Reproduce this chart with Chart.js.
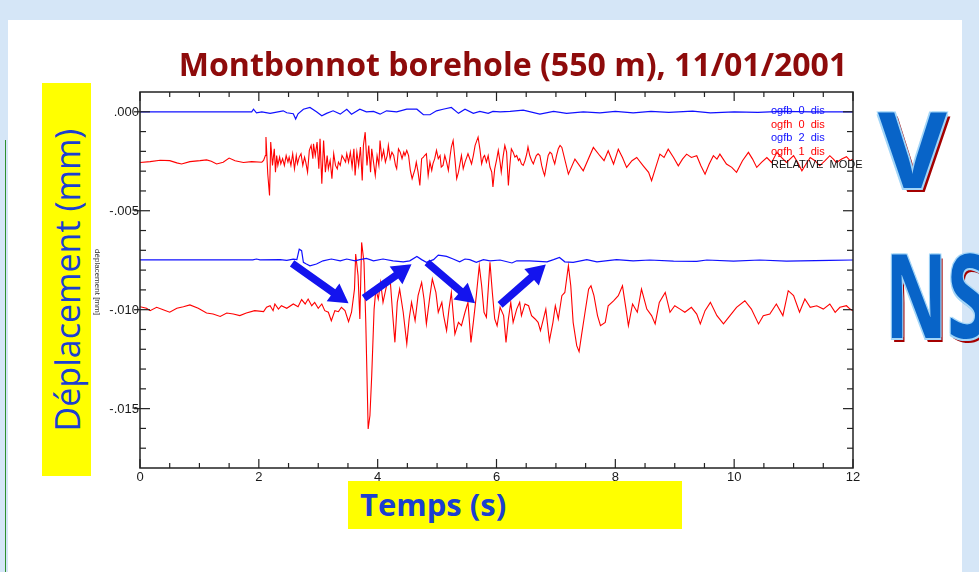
<!DOCTYPE html>
<html>
<head>
<meta charset="utf-8">
<script src="https://cdn.jsdelivr.net/npm/chart.js@4.4.1/dist/chart.umd.min.js"></script>
<style>
  html, body { margin: 0; padding: 0; }
  body { width: 979px; height: 572px; overflow: hidden; position: relative; background: #d5e6f7; font-family: "Open Sans", sans-serif; }
  #panel { position: absolute; left: 8px; top: 20px; width: 954px; height: 552px; background: #fff; }
  #edge { position: absolute; left: 5px; top: 140px; width: 1px; height: 432px; background: #2f8f2f; }
  .ybox { position: absolute; background: #ffff00; }
  #ylab { left: 42px; top: 83px; width: 49px; height: 393px; }
  #ylab span { position: absolute; left: 50%; top: 50%; transform: translate(-50%, -50%) rotate(-90deg); white-space: nowrap; font-size: 34px; color: #1b3fd0; }
  #xlab { left: 348px; top: 481px; width: 334px; height: 48px; }
  #xlab span { position: absolute; left: 12px; top: 50%; transform: translateY(-52%); white-space: nowrap; font-size: 31px; font-weight: bold; color: #1b3fd0; }
  .big { position: absolute; font-weight: bold; color: #0864c8; line-height: 1; white-space: nowrap;
         text-shadow: -1.5px -1.5px 0 #a3d6f8, 1.5px -1.5px 0 #a3d6f8, -1.5px 1.5px 0 #a3d6f8, 1.5px 1.5px 0 #a3d6f8, 3.5px 3.5px 0 #a40000; }
  #v { left: 878px; top: 94px; font-size: 106px; }
  #ns { left: 885px; top: 235px; font-size: 116px; transform-origin: left top; transform: scaleX(0.66); }
  canvas { position: absolute; left: 0; top: 0; }
</style>
</head>
<body>
<div id="panel"></div>
<div id="edge"></div>
<div class="ybox" id="ylab"><span>Déplacement (mm)</span></div>
<div class="ybox" id="xlab"><span>Temps (s)</span></div>
<div class="big" id="v">V</div>
<div class="big" id="ns">NS</div>
<canvas id="plot" width="979" height="572"></canvas>
<script>
// Montbonnot borehole (550 m), 11/01/2001 -- displacement traces, values in micrometres (0.001 mm)
const chartTitle = 'Montbonnot borehole (550 m), 11/01/2001';
const traceNames = ['ogfb  0  dis', 'ogfh  0  dis', 'ogfb  2  dis', 'ogfh  1  dis'];
const modeLabel = 'RELATIVE  MODE';
const xTickValues = [0, 2, 4, 6, 8, 10, 12];
const xTickLabels = ['0', '2', '4', '6', '8', '10', '12'];
const yTickValues = [0, -0.005, -0.010, -0.015];
const yTickLabels = ['.000', '-.005', '-.010', '-.015'];

// ogfb 0 dis (vertical, surface)
const ogfb0Time = [0, 1.88, 1.91, 1.96, 2.05, 2.19, 2.41, 2.47, 2.58, 2.62, 2.66, 2.75, 2.86, 2.97, 3.06, 3.14, 3.25, 3.37, 3.48, 3.56,
  3.70, 3.81, 3.93, 4.04, 4.15, 4.32, 4.49, 4.66, 4.77, 4.88, 4.99, 5.10, 5.24, 5.36, 5.47, 5.61, 5.72, 5.86, 5.94, 6.06,
  6.23, 6.45, 6.73, 6.96, 7.18, 7.46, 7.74, 8.0, 8.3, 8.6, 8.9, 9.3, 9.6, 10.0, 10.4, 10.8, 11.3, 12.0];
const ogfb0Disp = [0, 0, 0.13, -0.05, 0, -0.08, 0.05, -0.05, -0.10, -0.37, -0.10, 0.13, 0.22, 0, -0.20, -0.08, 0.05, -0.12, 0.13, -0.12,
  0.13, 0, 0.02, -0.12, 0.05, 0, 0.13, 0.13, -0.15, -0.15, 0.05, 0.13, 0.22, -0.08, 0.13, -0.08, 0.02, -0.08, 0.02, 0,
  0.02, 0.08, -0.12, 0.02, -0.08, 0, -0.05, 0.02, -0.05, 0.02, -0.03, 0.03, -0.05, 0, -0.03, 0.02, 0, 0];

// ogfh 0 dis (horizontal, surface)
const ogfh0Time = [0.00, 0.17, 0.34, 0.50, 0.62, 0.70, 0.84, 1.01, 1.12, 1.20, 1.29, 1.40, 1.50, 1.60, 1.74, 1.88, 2.05,
  2.08, 2.11, 2.12, 2.15, 2.18, 2.20, 2.23, 2.26, 2.28, 2.30, 2.32, 2.35, 2.37, 2.40, 2.43, 2.46, 2.49, 2.51, 2.54, 2.57,
  2.60, 2.63, 2.65, 2.68, 2.71, 2.74, 2.77, 2.79, 2.82, 2.85, 2.88, 2.91, 2.92, 2.95, 2.98, 3.01, 3.03, 3.06, 3.09, 3.12,
  3.15, 3.17, 3.20, 3.23, 3.26, 3.29, 3.32, 3.34, 3.37, 3.40, 3.43, 3.46, 3.48, 3.51, 3.54, 3.57, 3.60, 3.62, 3.65, 3.68,
  3.71, 3.74, 3.76, 3.79, 3.82, 3.85, 3.88, 3.90, 3.93, 3.96, 3.99, 4.02, 4.04, 4.07, 4.10, 4.13, 4.16, 4.18, 4.21, 4.24,
  4.27, 4.30, 4.32, 4.35, 4.38, 4.41, 4.44, 4.46, 4.49, 4.52, 4.55, 4.58,
  4.63, 4.65, 4.68, 4.71, 4.74, 4.77, 4.79, 4.82, 4.85, 4.88, 4.91, 4.93, 4.96, 4.99, 5.02, 5.05, 5.07, 5.10, 5.13, 5.16,
  5.19, 5.22, 5.24, 5.27, 5.30, 5.33, 5.36, 5.38, 5.41, 5.44, 5.47, 5.50, 5.52, 5.55, 5.58, 5.61, 5.64, 5.66, 5.69, 5.72,
  5.75, 5.78, 5.80, 5.83, 5.86, 5.89, 5.92, 5.94, 5.97, 6.00, 6.03, 6.06, 6.08, 6.11, 6.14, 6.17, 6.20, 6.22, 6.25, 6.28,
  6.31, 6.34, 6.37, 6.39, 6.42, 6.45, 6.48, 6.51, 6.53, 6.56, 6.59, 6.62, 6.65, 6.67, 6.70, 6.73, 6.76, 6.79, 6.81, 6.84,
  6.87, 6.90, 6.93, 6.95, 6.98, 7.01, 7.04, 7.07,
  7.10, 7.21, 7.32, 7.46, 7.63, 7.74, 7.81, 7.88, 7.97, 8.05, 8.12, 8.19, 8.28, 8.36, 8.47, 8.56, 8.61,
  8.68, 8.75, 8.82, 8.89, 8.98, 9.06, 9.13, 9.20, 9.28, 9.37, 9.44, 9.51, 9.58, 9.65, 9.71, 9.76, 9.87, 9.96, 10.04, 10.14,
  10.24, 10.31, 10.38, 10.46, 10.55, 10.63, 10.72, 10.80, 10.88, 11.00, 11.07, 11.14, 11.21, 11.28, 11.36, 11.44, 11.53, 11.61, 11.67, 11.72,
  11.81, 11.89, 11.95, 12.00];
const ogfh0Disp = [-2.56, -2.52, -2.45, -2.47, -2.58, -2.64, -2.52, -2.47, -2.43, -2.50, -2.64, -2.55, -2.34, -2.47, -2.56, -2.52, -2.55,
  -2.46, -2.21, -1.28, -3.13, -4.23, -1.53, -2.71, -1.87, -3.05, -2.21, -2.71, -2.29, -2.63, -2.37, -2.71, -2.21, -2.54, -2.29, -2.71, -2.12,
  -2.88, -2.21, -2.63, -2.29, -2.12, -2.71, -2.29, -2.54, -3.05, -1.95, -1.70, -2.37, -1.62, -2.21, -1.53, -2.88, -1.36, -3.64, -1.45, -3.05,
  -2.21, -2.88, -2.46, -3.38, -2.12, -2.71, -2.88, -2.54, -2.71, -2.21, -2.37, -2.54, -2.12, -2.54, -2.04, -2.79, -1.87, -3.22, -2.04, -2.71,
  -1.78, -3.47, -1.70, -1.03, -2.71, -1.70, -3.05, -1.87, -2.54, -3.22, -2.21, -2.71, -1.45, -2.37, -1.95, -2.54, -2.21, -1.70, -2.37, -2.04,
  -2.21, -2.71, -2.88, -1.87, -2.04, -2.37, -2.04, -2.21, -1.95, -2.21, -2.96, -3.38,
  -2.88, -2.54, -3.05, -3.72, -2.37, -2.29, -2.21, -2.12, -3.22, -2.54, -2.96, -2.63, -2.37, -1.95, -2.37, -2.21, -2.79, -2.71, -2.21, -2.54,
  -2.96, -2.21, -1.78, -1.45, -2.37, -3.38, -3.05, -2.71, -2.21, -2.88, -2.54, -2.29, -2.12, -2.37, -2.63, -2.21, -1.70, -1.53, -1.28, -1.87,
  -2.63, -2.29, -2.21, -2.54, -2.21, -2.79, -3.05, -3.80, -2.88, -2.46, -1.95, -2.54, -3.05, -2.29, -1.70, -2.04, -3.72, -2.88, -1.87, -2.04,
  -2.29, -2.21, -2.46, -2.37, -2.63, -2.71, -2.46, -2.12, -1.78, -2.21, -2.46, -2.63, -2.37, -2.21, -2.12, -2.21, -2.71, -3.05, -3.22, -2.71,
  -2.21, -2.04, -2.12, -2.37, -2.63, -2.21, -1.87, -1.70,
  -1.80, -3.15, -2.39, -2.98, -1.80, -2.22, -2.47, -1.97, -2.64, -1.89, -2.31, -2.81, -2.47, -2.31, -2.73, -3.06, -3.48,
  -2.81, -2.14, -2.31, -1.89, -2.31, -2.73, -2.39, -2.14, -2.31, -2.22, -2.73, -3.15, -2.64, -2.22, -2.39, -2.14, -2.64, -2.81, -3.06, -2.47,
  -2.05, -2.39, -2.81, -2.56, -2.31, -2.56, -2.05, -2.31, -2.56, -2.22, -2.56, -2.98, -2.64, -2.31, -2.47, -2.73, -2.47, -2.22, -2.39, -2.56,
  -2.39, -2.27, -2.47, -2.39];

// ogfb 2 dis (vertical, borehole)
const ogfb2Time = [0, 1.90, 1.96, 2.02, 2.36, 2.47, 2.58, 2.64, 2.68, 2.72, 2.75, 2.80, 2.86, 2.97, 3.08, 3.22, 3.37, 3.48, 3.62, 3.70,
  3.81, 3.93, 4.09, 4.26, 4.43, 4.54, 4.66, 4.74, 4.82, 4.94, 5.02, 5.08, 5.16, 5.27, 5.38, 5.47, 5.55, 5.66, 5.78, 5.89,
  6.06, 6.26, 6.34, 6.56, 6.85, 6.96, 7.06, 7.15, 7.29, 7.52, 7.69, 8.02, 8.30, 8.58, 8.98, 9.37, 9.54, 9.99, 10.43, 10.88,
  11.61, 12.0];
const ogfb2Disp = [-7.48, -7.48, -7.44, -7.48, -7.47, -7.51, -7.45, -7.47, -6.94, -7.02, -7.61, -7.69, -7.78, -7.69, -7.53, -7.44, -7.53, -7.44, -7.53, -7.47,
  -7.41, -7.53, -7.44, -7.53, -7.58, -7.53, -7.31, -7.47, -7.61, -7.47, -7.24, -7.27, -7.31, -7.44, -7.58, -7.44, -7.47, -7.61, -7.47, -7.53,
  -7.49, -7.64, -7.53, -7.53, -7.58, -7.47, -7.36, -7.58, -7.61, -7.47, -7.58, -7.47, -7.53, -7.49, -7.55, -7.56, -7.49, -7.55, -7.49, -7.55,
  -7.51, -7.49];

// ogfh 1 dis (horizontal, borehole)
const ogfh1Time = [0.00, 0.11, 0.17, 0.28, 0.39, 0.50, 0.62, 0.73, 0.84, 0.98, 1.12, 1.23, 1.35, 1.46, 1.57, 1.68, 1.79, 1.93, 2.08, 2.13,
  2.19, 2.24, 2.27, 2.33, 2.38, 2.47, 2.58, 2.66, 2.72, 2.78, 2.83, 2.89, 2.94, 3.00, 3.06, 3.11, 3.17, 3.22, 3.28, 3.34,
  3.39, 3.45, 3.51, 3.56, 3.61, 3.63, 3.67, 3.70, 3.73, 3.77, 3.80, 3.84, 3.87, 3.90, 3.94, 3.97, 4.01, 4.05, 4.09, 4.15,
  4.21, 4.25, 4.29, 4.33, 4.37, 4.43, 4.49, 4.53, 4.57, 4.63, 4.68, 4.74, 4.78, 4.82, 4.88, 4.92, 4.98, 5.02, 5.08, 5.11,
  5.16, 5.20, 5.24, 5.30, 5.36, 5.41, 5.47, 5.52, 5.57, 5.61, 5.66, 5.71, 5.75, 5.79, 5.83, 5.89, 5.93, 5.97, 6.01,
  6.06, 6.12, 6.16, 6.20, 6.24, 6.28, 6.34, 6.39, 6.42, 6.48, 6.54, 6.59, 6.65, 6.70, 6.74, 6.79, 6.83, 6.89, 6.95, 6.99,
  7.04, 7.10, 7.15, 7.21, 7.25, 7.29, 7.35, 7.39, 7.43, 7.49, 7.55, 7.59, 7.64, 7.70, 7.75, 7.83, 7.88, 7.97, 8.05, 8.12,
  8.18, 8.22, 8.29, 8.37, 8.44, 8.53, 8.61, 8.67, 8.74, 8.84, 8.92, 9.00, 9.09, 9.17, 9.28, 9.37, 9.43, 9.51, 9.60, 9.71,
  9.82, 9.93, 10.04, 10.18, 10.29, 10.41, 10.49, 10.60, 10.71, 10.82, 10.91, 11.00, 11.10, 11.19, 11.28, 11.39, 11.50, 11.61, 11.70, 11.78,
  11.89, 11.95, 12.00];
const ogfh1Disp = [-9.85, -9.93, -10.05, -9.88, -10.00, -10.13, -9.93, -9.85, -9.76, -9.93, -10.17, -10.22, -10.34, -10.17, -10.22, -10.30, -10.17, -10.05, -10.10, -9.88,
  -9.80, -10.05, -9.71, -9.97, -9.80, -9.93, -9.71, -9.85, -9.49, -9.71, -9.46, -9.80, -9.63, -9.93, -9.71, -10.05, -10.13, -10.56, -10.05, -10.10,
  -9.88, -10.05, -10.61, -10.13, -8.96, -7.19, -8.28, -10.47, -6.60, -7.61, -10.64, -16.03, -15.35, -13.33, -9.97, -8.96, -9.46, -8.62, -9.63, -8.79,
  -8.45, -10.13, -11.65, -9.63, -8.96, -10.13, -11.73, -10.47, -9.63, -10.56, -9.29, -8.62, -9.46, -10.72, -9.29, -8.45, -9.13, -10.13, -9.63, -10.30,
  -11.06, -9.97, -9.13, -11.23, -10.64, -10.81, -10.13, -9.63, -11.65, -10.64, -9.29, -7.78, -8.79, -10.13, -10.39, -7.61, -9.13, -10.47, -10.81,
  -9.88, -10.30, -11.65, -10.47, -9.63, -10.64, -9.97, -9.63, -10.30, -9.71, -9.80, -10.30, -10.47, -10.64, -11.06, -10.47, -9.97, -11.57, -10.64, -9.80,
  -10.47, -9.29, -9.13, -7.78, -8.79, -10.64, -11.82, -12.12, -11.31, -10.13, -8.96, -8.79, -9.29, -10.30, -10.81, -10.64, -9.80, -9.55, -9.29, -8.79,
  -9.97, -10.81, -9.71, -10.13, -8.96, -9.97, -10.30, -10.72, -9.63, -9.13, -10.13, -9.80, -9.97, -10.13, -9.88, -10.22, -10.72, -10.05, -9.63, -10.30,
  -10.72, -10.30, -9.88, -9.55, -9.97, -10.72, -10.30, -10.22, -9.71, -10.30, -9.04, -9.29, -10.13, -9.46, -9.88, -9.80, -9.97, -9.71, -10.13, -9.88,
  -9.80, -9.97, -10.05];

// blue arrows of the slide, tail -> head, in (s, micrometre)
const arrowPath = [
  [[2.56, -7.66], [3.51, -9.68]],
  [[3.77, -9.42], [4.57, -7.71]],
  [[4.83, -7.61], [5.64, -9.68]],
  [[6.06, -9.76], [6.83, -7.72]]
];

const traceColors = ['#1010ff', '#ff0000', '#1010ff', '#ff0000'];

function toPoints(times, disp) {
  const n = Math.min(times.length, disp.length);
  const pts = [];
  for (let i = 0; i < n; i++) {
    pts.push({ x: times[i], y: disp[i] / 1000 });
  }
  return pts;
}

const traces = [
  toPoints(ogfb0Time, ogfb0Disp),
  toPoints(ogfh0Time, ogfh0Disp),
  toPoints(ogfb2Time, ogfb2Disp),
  toPoints(ogfh1Time, ogfh1Disp)
];

function drawArrow(ctx, x0, y0, x1, y1) {
  const ang = Math.atan2(y1 - y0, x1 - x0);
  const len = Math.hypot(x1 - x0, y1 - y0);
  const headLen = 19, headW = 11, shaft = 3.8;
  ctx.save();
  ctx.translate(x0, y0);
  ctx.rotate(ang);
  ctx.beginPath();
  ctx.moveTo(0, -shaft);
  ctx.lineTo(len - headLen, -shaft);
  ctx.lineTo(len - headLen, -headW);
  ctx.lineTo(len, 0);
  ctx.lineTo(len - headLen, headW);
  ctx.lineTo(len - headLen, shaft);
  ctx.lineTo(0, shaft);
  ctx.closePath();
  ctx.fill();
  ctx.restore();
}

function seg(ctx, xa, ya, xb, yb) {
  ctx.beginPath();
  ctx.moveTo(xa, ya);
  ctx.lineTo(xb, yb);
  ctx.stroke();
}

const seismoFrame = {
  id: 'seismoFrame',
  afterDatasetsDraw(chart) {
    const { ctx, chartArea: a, scales: { x, y } } = chart;
    ctx.save();

    // arrows
    ctx.fillStyle = '#1414ee';
    arrowPath.forEach(([tail, head]) => {
      drawArrow(ctx,
        x.getPixelForValue(tail[0]), y.getPixelForValue(tail[1] / 1000),
        x.getPixelForValue(head[0]), y.getPixelForValue(head[1] / 1000));
    });

    // frame
    ctx.strokeStyle = '#222';
    ctx.lineWidth = 1.5;
    ctx.strokeRect(a.left, a.top, a.right - a.left, a.bottom - a.top);

    // x ticks every 0.5 s, longer every 2 s
    ctx.lineWidth = 1.2;
    for (let i = 0; i <= 24; i++) {
      const px = x.getPixelForValue(i * 0.5);
      const len = i % 4 === 0 ? 9 : 5;
      seg(ctx, px, a.bottom, px, a.bottom - len);
      seg(ctx, px, a.top, px, a.top + len);
    }
    // y ticks every 0.001, longer every 0.005
    for (let i = 0; i <= 17; i++) {
      const py = y.getPixelForValue(-i * 0.001);
      const major = i % 5 === 0;
      seg(ctx, a.left - (major ? 6 : 0), py, a.left + (major ? 10 : 6), py);
      seg(ctx, a.right, py, a.right - (major ? 10 : 6), py);
    }

    // tick labels
    ctx.fillStyle = '#1a1a1a';
    ctx.font = '13px "Liberation Sans", sans-serif';
    ctx.textAlign = 'right';
    ctx.textBaseline = 'middle';
    yTickValues.forEach((v, i) => ctx.fillText(yTickLabels[i], a.left - 1, y.getPixelForValue(v) + 1));
    ctx.font = '13px "Liberation Sans Narrow", "Liberation Sans", sans-serif';
    ctx.textAlign = 'center';
    ctx.textBaseline = 'top';
    xTickValues.forEach((v, i) => ctx.fillText(xTickLabels[i], x.getPixelForValue(v), a.bottom + 3));

    // small original axis name
    ctx.save();
    ctx.translate(a.left - 43, (a.top + a.bottom) / 2 + 2);
    ctx.rotate(Math.PI / 2);
    ctx.font = '8px "Liberation Sans", sans-serif';
    ctx.textAlign = 'center';
    ctx.textBaseline = 'middle';
    ctx.fillStyle = '#333';
    ctx.fillText('déplacement [mm]', 0, 0);
    ctx.restore();

    // trace names
    ctx.font = '11px "Liberation Sans", sans-serif';
    ctx.textAlign = 'left';
    ctx.textBaseline = 'middle';
    chart.data.datasets.forEach((ds, i) => {
      ctx.fillStyle = ds.borderColor;
      ctx.fillText(ds.label, a.right - 82, a.top + 19 + i * 13.6);
    });
    ctx.fillStyle = '#111';
    ctx.fillText(modeLabel, a.right - 82, a.top + 19 + 4 * 13.6);

    // title
    ctx.fillStyle = '#8e0b0b';
    ctx.font = 'bold 30px "Open Sans", sans-serif';
    const w = ctx.measureText(chartTitle).width;
    const size = 30 * 670 / w;
    ctx.font = 'bold ' + size.toFixed(1) + 'px "Open Sans", sans-serif';
    ctx.textAlign = 'center';
    ctx.textBaseline = 'middle';
    ctx.fillText(chartTitle, 513, 67);

    ctx.restore();
  }
};

new Chart(document.getElementById('plot'), {
  type: 'line',
  data: {
    datasets: traces.map((pts, i) => ({
      label: traceNames[i],
      data: pts,
      borderColor: traceColors[i],
      borderWidth: i % 2 === 0 ? 1.2 : 1.1,
      pointRadius: 0,
      tension: 0,
      fill: false
    }))
  },
  options: {
    responsive: false,
    animation: false,
    devicePixelRatio: 1,
    layout: { padding: { left: 140, right: 126, top: 92, bottom: 104 } },
    scales: {
      x: { type: 'linear', min: 0, max: 12, display: false },
      y: { type: 'linear', min: -0.018, max: 0.001, display: false }
    },
    plugins: {
      legend: { display: false },
      tooltip: { enabled: false },
      title: { display: false }
    }
  },
  plugins: [seismoFrame]
});
</script>
</body>
</html>
